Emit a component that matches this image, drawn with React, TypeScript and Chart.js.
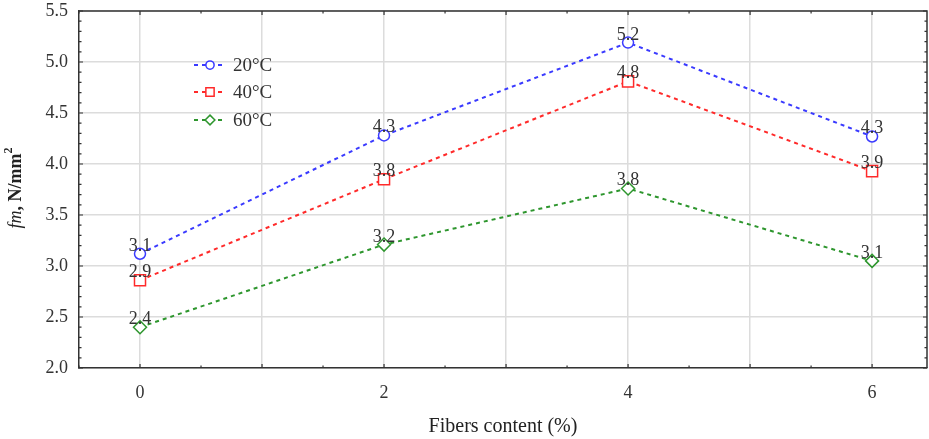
import React, { useEffect, useRef } from "react";
import { Chart, registerables } from "chart.js";

Chart.register(...registerables);

const fibers = [0, 2, 4, 6];
const seriesNames = ["20°C", "40°C", "60°C"];
const values20 = [3.12, 4.28, 5.19, 4.27];
const values40 = [2.86, 3.85, 4.81, 3.93];
const values60 = [2.4, 3.21, 3.76, 3.05];
const labels20 = ["3.1", "4.3", "5.2", "4.3"];
const labels40 = ["2.9", "3.8", "4.8", "3.9"];
const labels60 = ["2.4", "3.2", "3.8", "3.1"];
const yTicks = [2.0, 2.5, 3.0, 3.5, 4.0, 4.5, 5.0, 5.5];
const xTickLabels = ["0", "2", "4", "6"];

const colors = ["#3a3aff", "#ff2a2a", "#2e962e"];
const pointStyles = ["circle", "rect", "rectRot"];
const pointRadii = [5.5, 7.8, 6.5];
const valueLabels = [labels20, labels40, labels60];

const X_MIN = -0.5;
const X_MAX = 6.45;

const SERIF = "'Liberation Serif', 'Times New Roman', serif";

function drawMarker(ctx: CanvasRenderingContext2D, style: string, x: number, y: number, r: number) {
  ctx.beginPath();
  if (style === "circle") {
    ctx.arc(x, y, r, 0, Math.PI * 2);
  } else if (style === "rect") {
    const s = Math.SQRT1_2 * r;
    ctx.rect(x - s, y - s, 2 * s, 2 * s);
  } else {
    ctx.moveTo(x, y - r);
    ctx.lineTo(x + r, y);
    ctx.lineTo(x, y + r);
    ctx.lineTo(x - r, y);
    ctx.closePath();
  }
  ctx.fill();
  ctx.stroke();
}

function zeroPad(s: any) {
  s.paddingLeft = 0;
  s.paddingRight = 0;
  s.paddingTop = 0;
  s.paddingBottom = 0;
}

const decorPlugin = {
  id: "decor",
  afterDraw(chart: any) {
    const ctx: CanvasRenderingContext2D = chart.ctx;
    const xs = chart.scales.x;
    const ys = chart.scales.y;
    const area = chart.chartArea;
    ctx.save();
    // top & right border
    ctx.strokeStyle = "#333";
    ctx.lineWidth = 1.5;
    ctx.beginPath();
    ctx.moveTo(area.left, area.top);
    ctx.lineTo(area.right, area.top);
    ctx.lineTo(area.right, area.bottom);
    ctx.stroke();
    // inner tick marks
    ctx.lineWidth = 1.2;
    for (let v = 2.0; v <= 5.5001; v += 0.1) {
      const y = ys.getPixelForValue(v);
      const major = Math.abs(v * 2 - Math.round(v * 2)) < 1e-6;
      const len = major ? 4 : 2.5;
      ctx.beginPath();
      ctx.moveTo(area.left, y);
      ctx.lineTo(area.left + len, y);
      ctx.moveTo(area.right, y);
      ctx.lineTo(area.right - len, y);
      ctx.stroke();
    }
    for (let v = -0.5; v <= X_MAX + 0.0001; v += 0.5) {
      const x = xs.getPixelForValue(v);
      const major = Math.abs(v - Math.round(v)) < 1e-6;
      const len = major ? 4 : 2.5;
      ctx.beginPath();
      ctx.moveTo(x, area.bottom);
      ctx.lineTo(x, area.bottom - len);
      ctx.moveTo(x, area.top);
      ctx.lineTo(x, area.top + len);
      ctx.stroke();
    }

    // value labels
    ctx.fillStyle = "#333";
    ctx.font = `18px ${SERIF}`;
    ctx.textAlign = "center";
    ctx.textBaseline = "alphabetic";
    chart.data.datasets.forEach((ds: any, i: number) => {
      const meta = chart.getDatasetMeta(i);
      meta.data.forEach((pt: any, j: number) => {
        ctx.fillText(valueLabels[i][j], pt.x, pt.y - 3);
      });
    });

    // legend
    const lx0 = 194, lx1 = 226, mx = 210, tx = 233;
    const rows = [65, 92, 120];
    seriesNames.forEach((name, i) => {
      const y = rows[i];
      ctx.strokeStyle = colors[i];
      ctx.lineWidth = 2;
      ctx.setLineDash([4, 4]);
      ctx.beginPath();
      ctx.moveTo(lx0, y);
      ctx.lineTo(lx1, y);
      ctx.stroke();
      ctx.setLineDash([]);
      ctx.fillStyle = "#fff";
      ctx.lineWidth = 1.5;
      drawMarker(ctx, pointStyles[i], mx, y, pointRadii[i] * 0.75);
      ctx.fillStyle = "#333";
      ctx.font = `19px ${SERIF}`;
      ctx.textAlign = "left";
      ctx.textBaseline = "middle";
      ctx.fillText(name, tx, y + 1);
    });

    // x title
    ctx.fillStyle = "#222";
    ctx.font = `20px ${SERIF}`;
    ctx.textAlign = "center";
    ctx.textBaseline = "middle";
    ctx.fillText("Fibers content (%)", 503, 427);

    // y title with mixed styles, rotated
    ctx.translate(16, 188);
    ctx.rotate(-Math.PI / 2);
    ctx.textBaseline = "middle";
    ctx.textAlign = "left";
    const p1 = "fm";
    const p2 = ", N/mm";
    const p3 = "2";
    const f1 = `italic 18px ${SERIF}`;
    const f2 = `bold 18px ${SERIF}`;
    const f3 = `bold 12px ${SERIF}`;
    ctx.font = f1; const w1 = ctx.measureText(p1).width;
    ctx.font = f2; const w2 = ctx.measureText(p2).width;
    ctx.font = f3; const w3 = ctx.measureText(p3).width;
    let x = -(w1 + w2 + w3) / 2;
    ctx.fillStyle = "#222";
    ctx.font = f1; ctx.fillText(p1, x, 0); x += w1;
    ctx.font = f2; ctx.fillText(p2, x, 0); x += w2;
    ctx.font = f3; ctx.fillText(p3, x, -7);
    ctx.restore();
  },
};

export default function App() {
  const ref = useRef<HTMLCanvasElement>(null);
  useEffect(() => {
    document.body.style.margin = "0";
    document.body.style.overflow = "hidden";
    const seriesValues = [values20, values40, values60];
    const chart = new Chart(ref.current!, {
      type: "scatter",
      data: {
        datasets: seriesNames.map((name, i) => ({
          label: name,
          data: fibers.map((f, j) => ({ x: f, y: seriesValues[i][j] })),
          showLine: true,
          borderColor: colors[i],
          borderWidth: 2,
          borderDash: [4, 4],
          pointStyle: pointStyles[i] as any,
          pointRadius: pointRadii[i],
          pointBorderWidth: 1.5,
          pointBorderColor: colors[i],
          pointBackgroundColor: "#fff",
          backgroundColor: "#fff",
        })),
      },
      options: {
        animation: false,
        responsive: false,
        maintainAspectRatio: false,
        layout: { autoPadding: false, padding: { top: 11, right: 2, left: 0, bottom: 0 } },
        plugins: { legend: { display: false }, tooltip: { enabled: false } },
        scales: {
          x: {
            type: "linear",
            min: X_MIN,
            max: X_MAX,
            afterFit: (s: any) => { s.height = 71; zeroPad(s); },
            afterBuildTicks: (s: any) => {
              s.ticks = [0, 1, 2, 3, 4, 5, 6].map((v) => ({ value: v }));
            },
            ticks: {
              autoSkip: false,
              maxRotation: 0,
              padding: 14,
              color: "#333",
              font: { family: SERIF, size: 18 },
              callback: (v: any) => (xTickLabels.includes(String(v)) ? String(v) : ""),
            },
            grid: { color: "#dcdcdc", lineWidth: 1.5, drawTicks: false },
            border: { display: true, color: "#333", width: 1.5 },
          },
          y: {
            type: "linear",
            min: 2.0,
            max: 5.5,
            afterFit: (s: any) => { s.width = 79; zeroPad(s); },
            afterBuildTicks: (s: any) => {
              s.ticks = yTicks.map((v) => ({ value: v }));
            },
            ticks: {
              padding: 11,
              color: "#333",
              font: { family: SERIF, size: 18 },
              callback: (v: any) => Number(v).toFixed(1),
            },
            grid: { color: "#dcdcdc", lineWidth: 1.5, drawTicks: false },
            border: { display: true, color: "#333", width: 1.5 },
          },
        },
      },
      plugins: [decorPlugin],
    });
    return () => chart.destroy();
  }, []);
  return <canvas ref={ref} width={929} height={439} style={{ display: "block" }} />;
}
